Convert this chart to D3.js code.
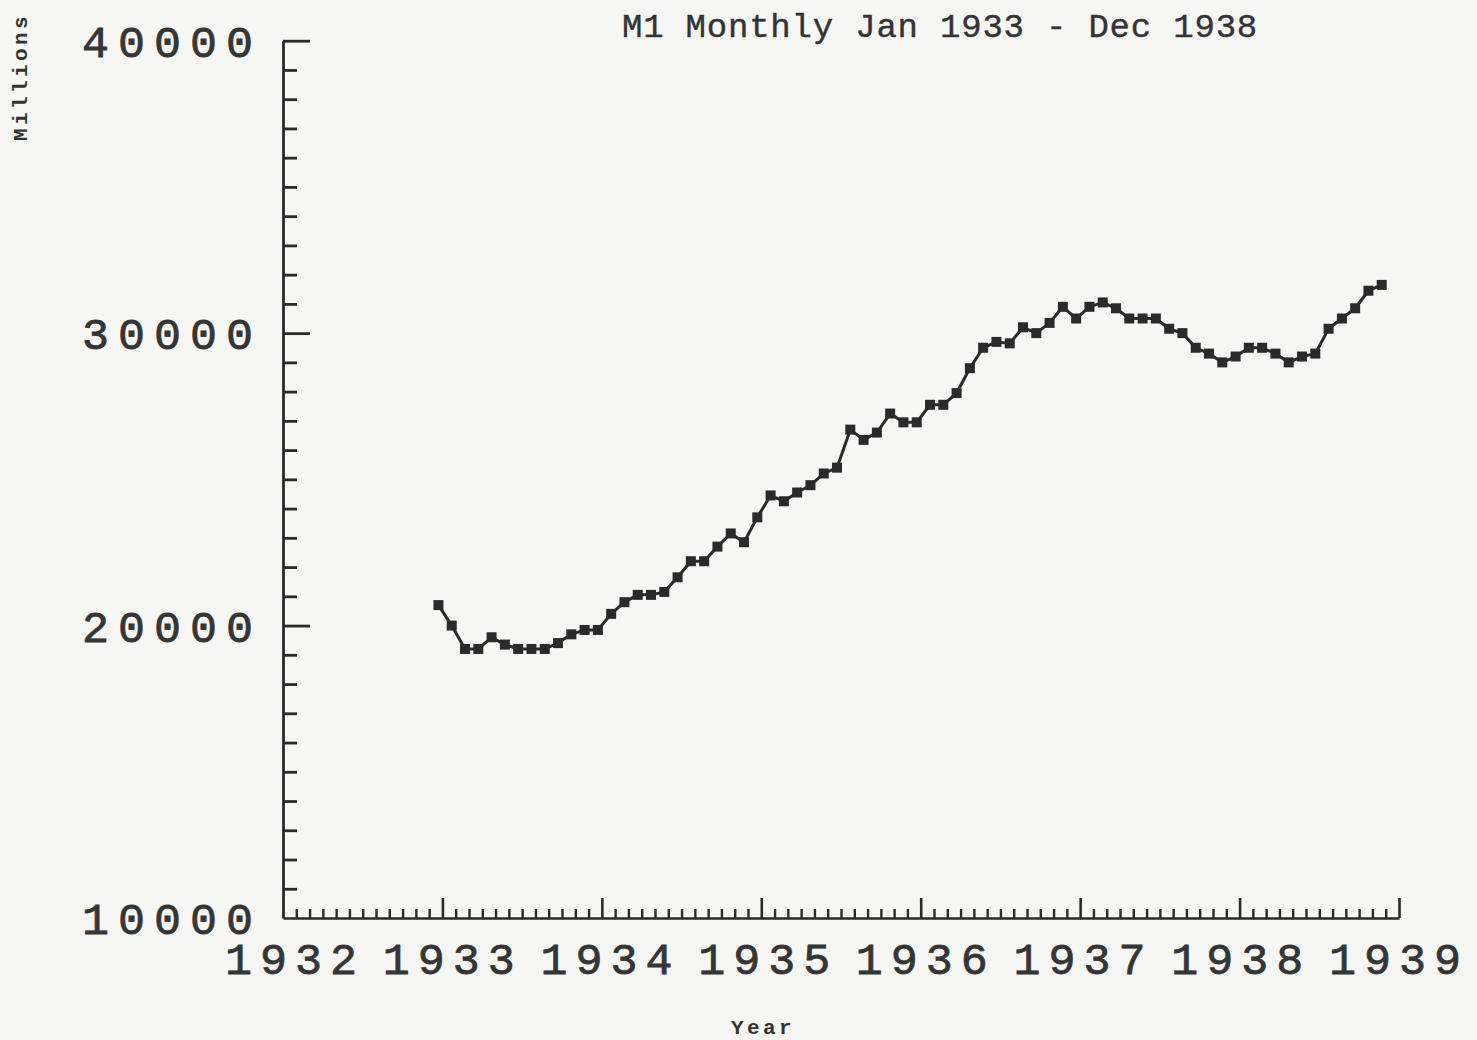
<!DOCTYPE html>
<html><head><meta charset="utf-8">
<script src="https://cdn.jsdelivr.net/npm/d3@7"></script>
<style>html,body{margin:0;padding:0;background:#f6f6f4;} svg{display:block}</style>
</head><body><svg id="c" width="1477" height="1040"></svg>
<script>
// ---- data (millions of dollars, M1 monthly) ----
const years = [1933, 1934, 1935, 1936, 1937, 1938];
const monthNames = ["Jan","Feb","Mar","Apr","May","Jun","Jul","Aug","Sep","Oct","Nov","Dec"];
const m1_1933 = [20700, 20000, 19200, 19200, 19600, 19350, 19200, 19200, 19200, 19400, 19700, 19850];
const m1_1934 = [19850, 20400, 20800, 21050, 21050, 21150, 21650, 22200, 22200, 22700, 23150, 22850];
const m1_1935 = [23700, 24450, 24250, 24550, 24800, 25200, 25400, 26700, 26350, 26600, 27250, 26950];
const m1_1936 = [26950, 27550, 27550, 27950, 28800, 29500, 29700, 29650, 30200, 30000, 30350, 30900];
const m1_1937 = [30500, 30900, 31050, 30850, 30500, 30500, 30500, 30150, 30000, 29500, 29300, 29000];
const m1_1938 = [29200, 29500, 29500, 29300, 29000, 29200, 29300, 30150, 30500, 30850, 31450, 31650];
const yTickLabels = ["10000", "20000", "30000", "40000"];
const xTickLabels = ["1932", "1933", "1934", "1935", "1936", "1937", "1938", "1939"];
const titleText = "M1 Monthly Jan 1933 - Dec 1938";
const yAxisTitle = "Millions";
const xAxisTitle = "Year";

const seriesByYear = [m1_1933, m1_1934, m1_1935, m1_1936, m1_1937, m1_1938];
const data = [];
years.forEach((yr, i) => seriesByYear[i].forEach((v, m) => data.push({t: yr + m / 12 - 0.025, v: v, label: monthNames[m] + " " + yr})));

// ---- layout ----
const svg = d3.select("#c");
const ink = "#2a2a2a";
const xDom = [+xTickLabels[0], +xTickLabels[xTickLabels.length-1]];
const x = d3.scaleLinear().domain(xDom).range([283, 1399]);
const xLab = d3.scaleLinear().domain(xDom).range([295, 1399]);
const y = d3.scaleLinear().domain([+yTickLabels[0], +yTickLabels[yTickLabels.length-1]]).range([918, 40.7]);

const x0 = x.range()[0], yb = y.range()[0];

// y axis: minor ticks every 1000, major every 10000, ticks pointing inward (right)
const yMinor = d3.range(10000, 40001, 1000).filter(v => v % 10000 !== 0);
const yMajor = yTickLabels.map(Number);
svg.append("g").attr("transform", `translate(${x0},0)`)
  .call(d3.axisRight(y).tickValues(yMinor).tickSize(14).tickSizeOuter(0).tickFormat(""))
  .call(g => g.selectAll("line,path").attr("stroke", ink).attr("stroke-width", 2.8));
svg.append("g").attr("transform", `translate(${x0},0)`)
  .call(d3.axisRight(y).tickValues(yMajor.filter(v => v !== 10000)).tickSize(27).tickSizeOuter(0).tickFormat(""))
  .call(g => g.select(".domain").remove())
  .call(g => g.selectAll("line").attr("stroke", ink).attr("stroke-width", 2.8));

// x axis: monthly minor ticks, yearly major ticks, pointing up
const xYears = xTickLabels.map(Number);
const xMinor = d3.range(0, 84).map(i => xYears[0] + i / 12).filter((v, i) => i % 12 !== 0);
svg.append("g").attr("transform", `translate(0,${yb})`)
  .call(d3.axisTop(x).tickValues(xMinor).tickSize(9).tickSizeOuter(0).tickFormat(""))
  .call(g => g.selectAll("line,path").attr("stroke", ink).attr("stroke-width", 2.4));
svg.append("g").attr("transform", `translate(0,${yb})`)
  .call(d3.axisTop(x).tickValues(xYears.slice(1)).tickSize(20).tickSizeOuter(0).tickFormat(""))
  .call(g => g.select(".domain").remove())
  .call(g => g.selectAll("line").attr("stroke", ink).attr("stroke-width", 2.6));

// tick labels
const labFont = "'Liberation Mono', 'Courier New', monospace";
svg.append("g").selectAll("text").data(yTickLabels).join("text")
  .attr("x", 262).attr("y", d => y(+d)).attr("dy", "0.36em")
  .attr("text-anchor", "end")
  .attr("font-family", labFont).attr("font-size", 45).attr("letter-spacing", 9)
  .attr("fill", "#353535").attr("stroke", "#353535").attr("stroke-width", 0.8)
  .text(d => d);
svg.append("g").selectAll("text").data(xTickLabels).join("text")
  .attr("x", d => xLab(+d)).attr("y", 974)
  .attr("text-anchor", "middle")
  .attr("font-family", labFont).attr("font-size", 45).attr("letter-spacing", 8)
  .attr("fill", "#353535").attr("stroke", "#353535").attr("stroke-width", 0.8)
  .text(d => d);

// title and axis titles
svg.append("text").attr("x", 940).attr("y", 37).attr("text-anchor", "middle")
  .attr("font-family", labFont).attr("font-size", 34).attr("letter-spacing", 0.8)
  .attr("fill", "#333").attr("stroke", "#333").attr("stroke-width", 0.4)
  .text(titleText);
svg.append("text").attr("transform", "translate(27,77) rotate(-90)").attr("text-anchor", "middle")
  .attr("font-family", labFont).attr("font-size", 21).attr("font-weight", "bold").attr("letter-spacing", 3.4)
  .attr("fill", "#333").text(yAxisTitle);
svg.append("text").attr("x", 763).attr("y", 1034).attr("text-anchor", "middle")
  .attr("font-family", labFont).attr("font-size", 21).attr("font-weight", "bold").attr("letter-spacing", 3.4)
  .attr("fill", "#333").text(xAxisTitle);

// line + square markers
const line = d3.line().x(d => x(d.t)).y(d => y(d.v));
svg.append("path").datum(data).attr("d", line)
  .attr("fill", "none").attr("stroke", ink).attr("stroke-width", 3).attr("stroke-linejoin", "round");
const ms = 10;
svg.append("g").selectAll("rect").data(data).join("rect")
  .attr("x", d => x(d.t) - ms / 2).attr("y", d => y(d.v) - ms / 2)
  .attr("width", ms).attr("height", ms).attr("fill", ink);
</script></body></html>
